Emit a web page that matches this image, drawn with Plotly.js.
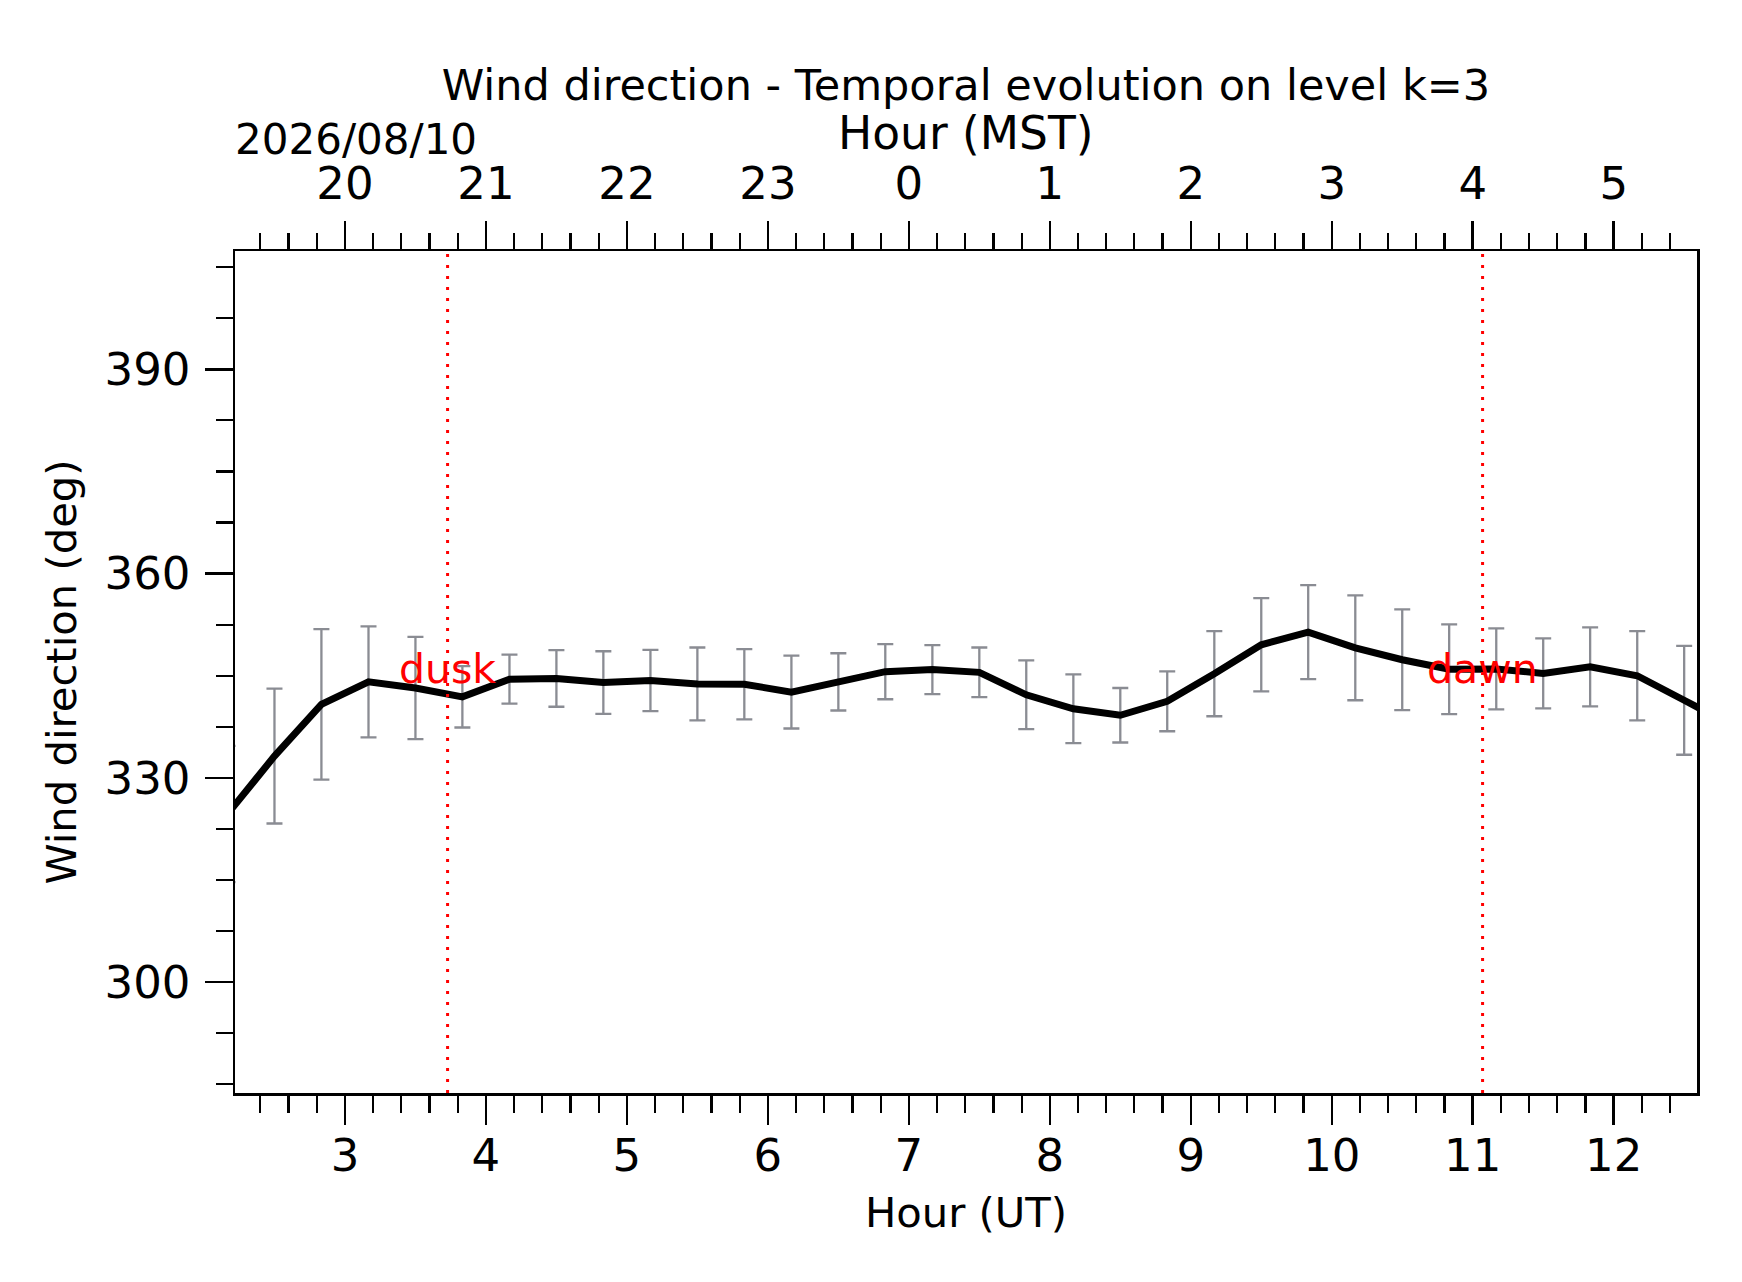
<!DOCTYPE html>
<html>
<head>
<meta charset="utf-8">
<script src="https://cdn.plot.ly/plotly-3.0.1.min.js"></script>
<style>
  html, body { margin: 0; padding: 0; background: #fff; }
  #chart { width: 1742px; height: 1282px; }
</style>
</head>
<body>
<div id="chart"></div>
<script>
// hours (UT), every 20 min
const hoursUT = [2.167, 2.5, 2.833, 3.167, 3.5, 3.833, 4.167, 4.5, 4.833, 5.167, 5.5,
  5.833, 6.167, 6.5, 6.833, 7.167, 7.5, 7.833, 8.167, 8.5, 8.833, 9.167, 9.5, 9.833,
  10.167, 10.5, 10.833, 11.167, 11.5, 11.833, 12.167, 12.5, 12.833];

// mean wind direction (deg)
const windDir = [324.7, 333.2, 340.8, 344.1, 343.2, 341.9, 344.5, 344.6, 344.0, 344.3, 343.8,
  343.75, 342.6, 344.1, 345.6, 345.9, 345.5, 342.2, 340.15, 339.2, 341.25, 345.3, 349.55, 351.4,
  349.1, 347.35, 345.95, 346.0, 345.35, 346.3, 345.0, 341.4, 337.8];

// std deviation (deg)
const windStd = [10.0, 9.9, 11.05, 8.15, 7.5, 4.5, 3.6, 4.15, 4.6, 4.5, 5.35,
  5.15, 5.35, 4.2, 4.05, 3.6, 3.65, 5.05, 5.05, 4.0, 4.4, 6.25, 6.85, 6.9,
  7.7, 7.4, 6.6, 5.95, 5.15, 5.8, 6.55, 8.0, 8.0];

const utTicks = [3, 4, 5, 6, 7, 8, 9, 10, 11, 12];
const mstLabels = ['20', '21', '22', '23', '0', '1', '2', '3', '4', '5'];

const duskUT = 3.728;
const dawnUT = 11.07;
const xRange = [2.22, 12.591];
const yRange = [283.73, 407.37];

const FONT = 'DejaVu Sans, Verdana, sans-serif';

var errTrace = {
  x: hoursUT,
  y: windDir,
  type: 'scatter',
  mode: 'markers',
  marker: { size: 1, color: 'rgba(0,0,0,0)' },
  error_y: { type: 'data', array: windStd, visible: true, color: '#8a8c93', thickness: 2.3, width: 8 },
  hoverinfo: 'skip',
  showlegend: false
};

var lineTrace = {
  x: hoursUT,
  y: windDir,
  type: 'scatter',
  mode: 'lines',
  line: { color: 'black', width: 7 },
  showlegend: false
};

// same series on the MST (top) axis, invisible, so that axis gets drawn
var mstTrace = {
  x: hoursUT,
  y: windDir,
  xaxis: 'x2',
  type: 'scatter',
  mode: 'lines',
  line: { color: 'rgba(0,0,0,0)', width: 0 },
  hoverinfo: 'skip',
  showlegend: false
};

var tickFont = { family: FONT, size: 45, color: 'black' };
var titleFont = { family: FONT, size: 43, color: 'black' };
var axTitleFont = { family: FONT, size: 41.7, color: 'black' };

var layout = {
  width: 1742,
  height: 1282,
  paper_bgcolor: 'white',
  plot_bgcolor: 'white',
  margin: { l: 235, r: 45, t: 251, b: 189 },
  showlegend: false,
  title: {
    text: 'Wind direction - Temporal evolution on level k=3',
    font: titleFont,
    x: 0.5545, xanchor: 'center',
    yref: 'container', y: 0.934, yanchor: 'middle'
  },
  xaxis: {
    range: xRange,
    tickmode: 'array',
    tickvals: utTicks,
    ticks: 'outside', ticklen: 29, tickwidth: 2.5, tickcolor: 'black',
    minor: { ticks: 'outside', ticklen: 17, tickwidth: 2.2, tickcolor: 'black', dtick: 0.2, tick0: 0, showgrid: false },
    showline: true, linecolor: 'black', linewidth: 2.5, mirror: true,
    showgrid: false, zeroline: false,
    tickfont: tickFont,
    ticklabelstandoff: -8,
    title: { text: 'Hour (UT)', font: axTitleFont, standoff: 18 }
  },
  xaxis2: {
    overlaying: 'x',
    side: 'top',
    anchor: 'y',
    range: xRange,
    tickmode: 'array',
    tickvals: utTicks,
    ticktext: mstLabels,
    ticks: 'outside', ticklen: 28, tickwidth: 2.5, tickcolor: 'black',
    minor: { ticks: 'outside', ticklen: 16, tickwidth: 2.2, tickcolor: 'black', dtick: 0.2, tick0: 0, showgrid: false },
    showline: true, linecolor: 'black', linewidth: 2.5,
    showgrid: false, zeroline: false,
    tickfont: tickFont,
    ticklabelstandoff: 4
  },
  yaxis: {
    range: yRange,
    tickmode: 'linear', tick0: 0, dtick: 30,
    ticks: 'outside', ticklen: 28, tickwidth: 2.5, tickcolor: 'black',
    minor: { ticks: 'outside', ticklen: 17, tickwidth: 2.2, tickcolor: 'black', dtick: 7.5, tick0: 0, showgrid: false },
    showline: true, linecolor: 'black', linewidth: 2.5, mirror: true,
    showgrid: false, zeroline: false,
    tickfont: tickFont,
    ticklabelstandoff: 5,
    title: { text: 'Wind direction (deg)', font: axTitleFont, standoff: 15 }
  },
  shapes: [
    { type: 'line', xref: 'x', yref: 'paper', x0: duskUT, x1: duskUT, y0: 0, y1: 1,
      line: { color: 'red', width: 3, dash: '3px,8px' } },
    { type: 'line', xref: 'x', yref: 'paper', x0: dawnUT, x1: dawnUT, y0: 0, y1: 1,
      line: { color: 'red', width: 3, dash: '3px,8px' } }
  ],
  annotations: [
    { text: 'dusk', x: duskUT, y: 346, xref: 'x', yref: 'y', showarrow: false,
      xanchor: 'center', yanchor: 'middle', font: { family: FONT, size: 41, color: 'red' } },
    { text: 'dawn', x: dawnUT, y: 346, xref: 'x', yref: 'y', showarrow: false,
      xanchor: 'center', yanchor: 'middle', font: { family: FONT, size: 41, color: 'red' } },
    // top axis title
    { text: 'Hour (MST)', xref: 'paper', yref: 'paper', x: 0.5, y: 1, yshift: 118,
      xanchor: 'center', yanchor: 'middle', showarrow: false, font: { family: FONT, size: 45.5, color: 'black' } },
    { text: '2026/08/10', xref: 'paper', yref: 'paper', x: 0, y: 1, yshift: 112, xshift: -2,
      xanchor: 'left', yanchor: 'middle', showarrow: false, font: { family: FONT, size: 42, color: 'black' } }
  ]
};

Plotly.newPlot('chart', [errTrace, lineTrace, mstTrace], layout, { staticPlot: true });
</script>
</body>
</html>
